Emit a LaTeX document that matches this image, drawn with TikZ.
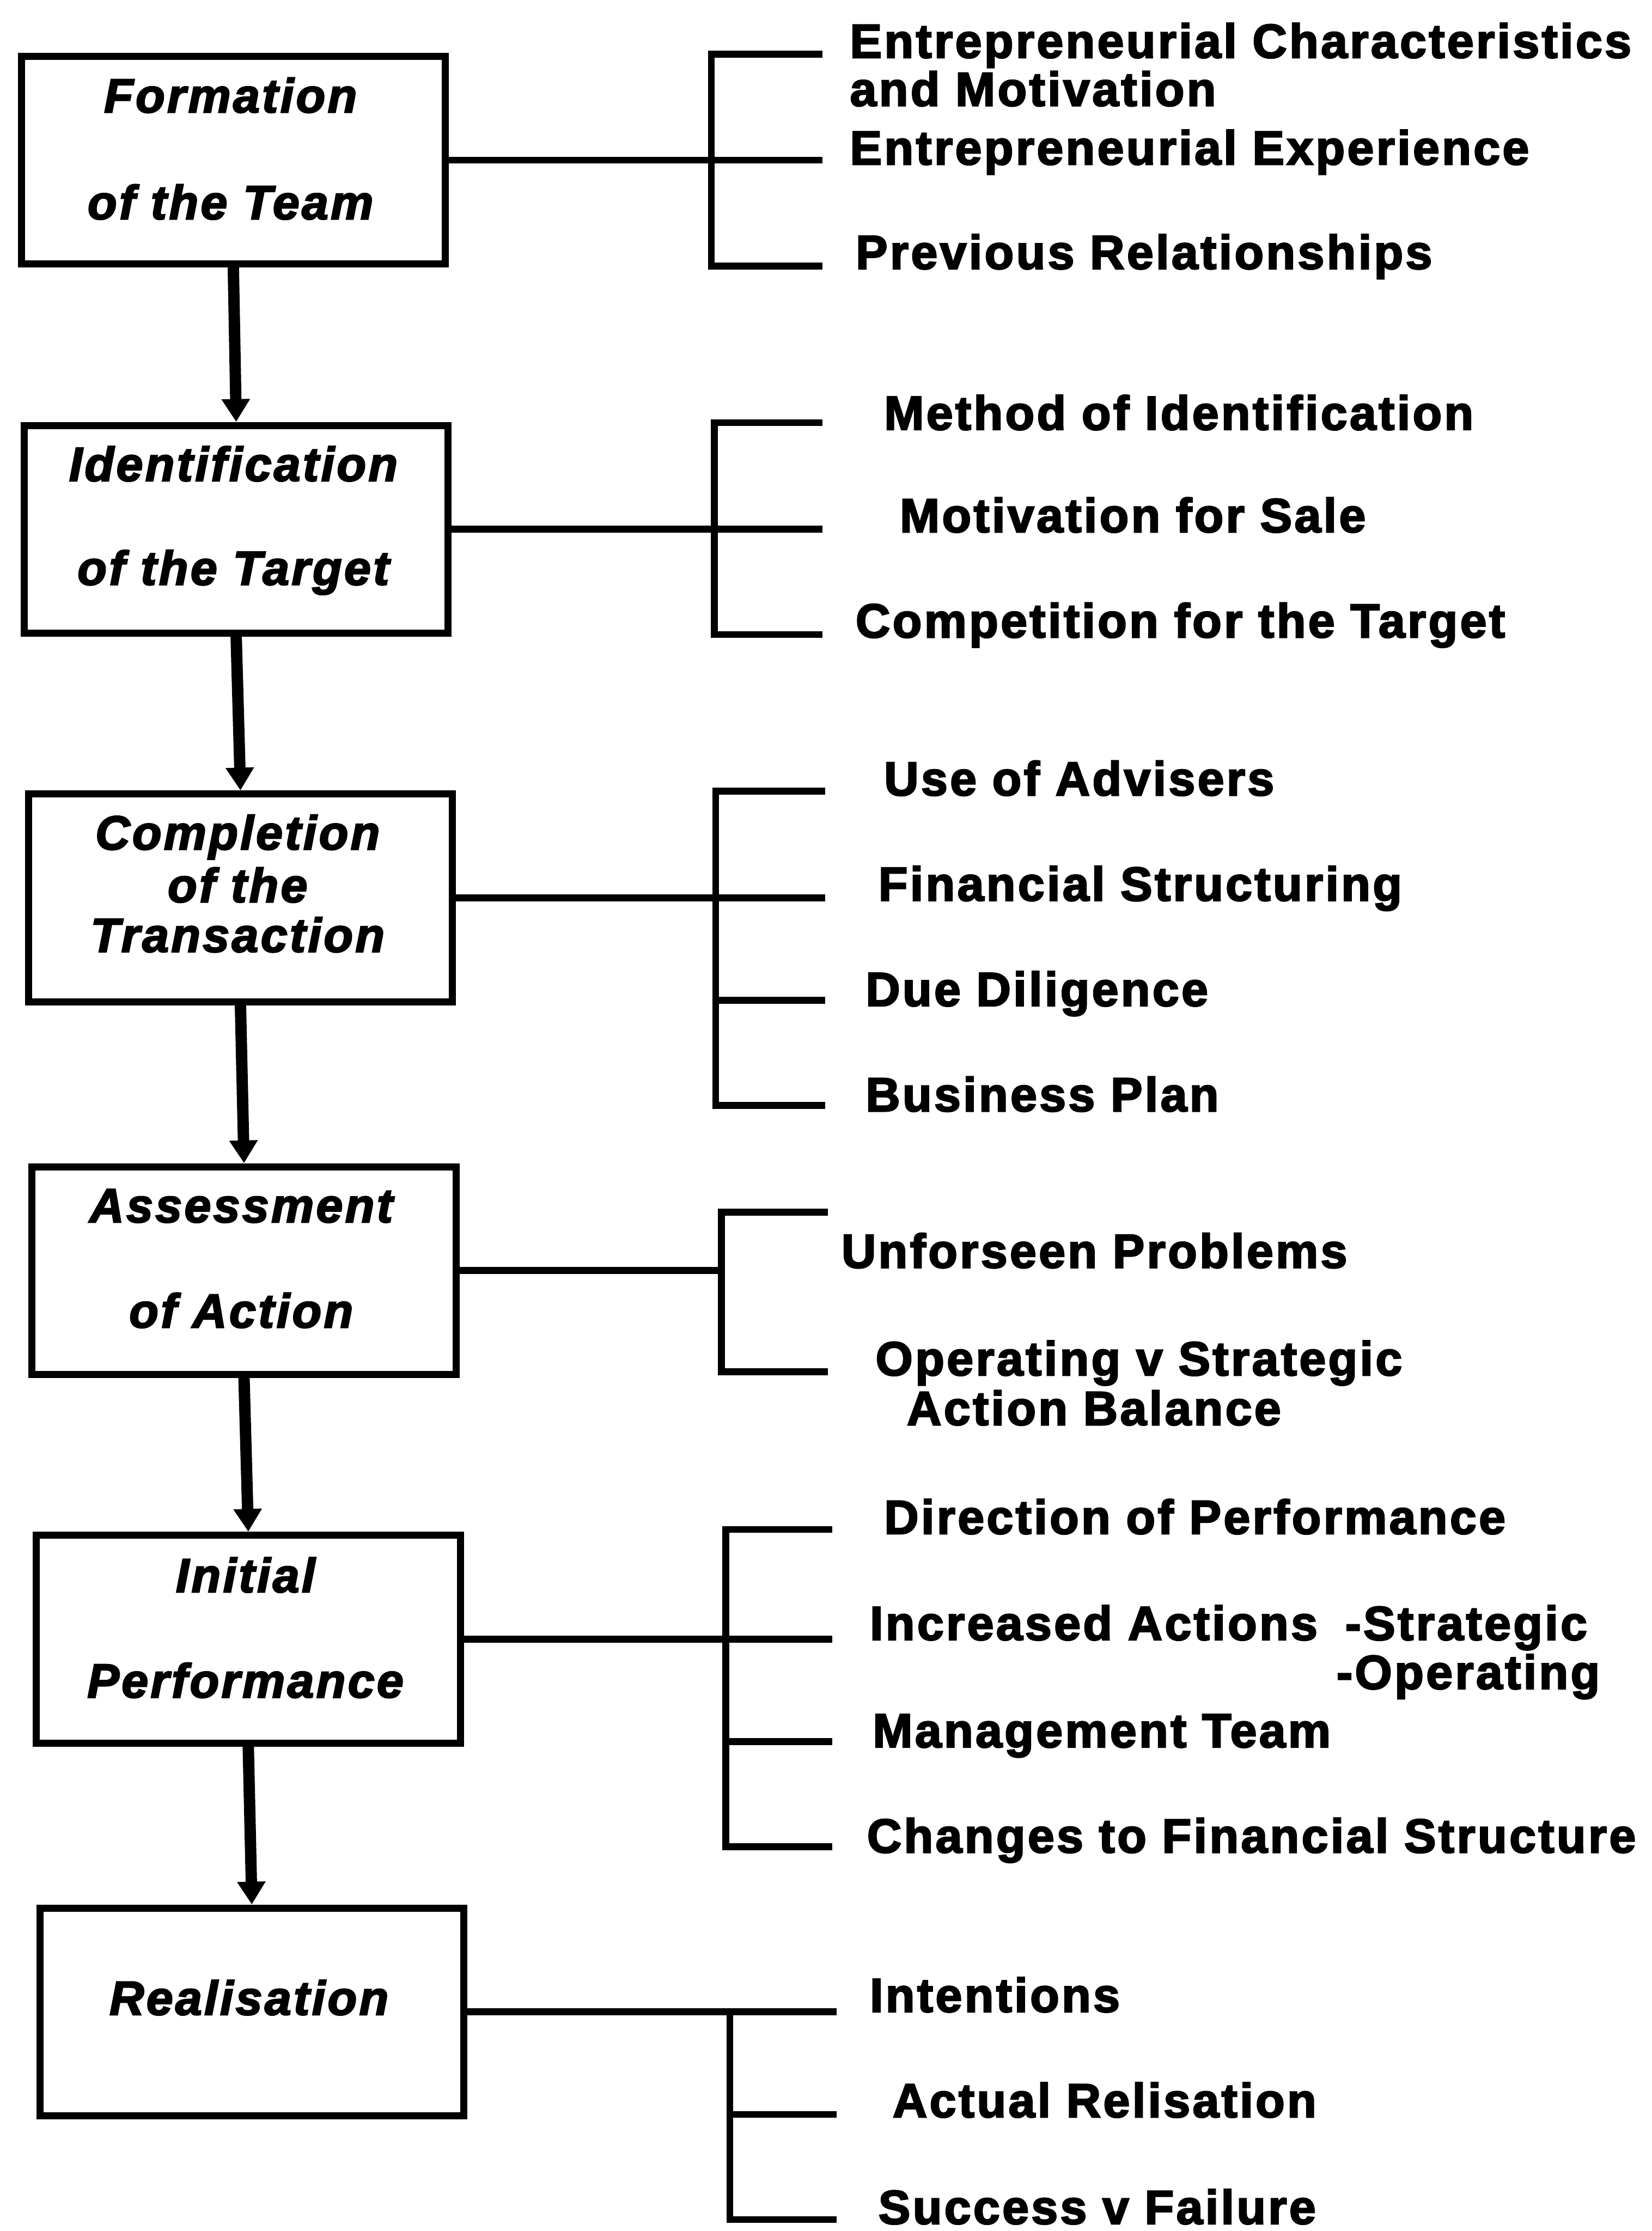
\documentclass[tikz,border=0pt]{standalone}
\usepackage{fontspec}
\setmainfont{Liberation Sans}[LetterSpace=5.0, FakeBold=3]
\usetikzlibrary{arrows.meta}
\begin{document}
\begin{tikzpicture}[x=0.5pt,y=-0.5pt,
  stage/.style={draw, line width=2.5pt, minimum width=149pt, minimum height=73pt, inner sep=0pt},
  stagetext/.style={anchor=base, inner sep=0pt, font=\fontsize{16.8}{18}\selectfont\bfseries\itshape},
  item/.style={anchor=base west, inner sep=0pt, font=\fontsize{16.8}{18}\selectfont\bfseries},
  flow/.style={line width=4pt, -{Triangle[width=9.5pt,length=8pt]}},
  bracket/.style={line width=2.4pt}
]
\useasboundingbox (0,0) rectangle (1161,1568);

% stages of the process
\node[stage] (b1) at (164,112.5) {};
\node[stage] (b2) at (166,372) {};
\node[stage] (b3) at (169,631) {};
\node[stage] (b4) at (171.5,893) {};
\node[stage] (b5) at (174.5,1152) {};
\node[stage] (b6) at (177,1414) {};

\node[stagetext] (b1a) at (162,79) {Formation};
\node[stagetext] (b1b) at (162,154) {of the Team};
\node[stagetext] (b2a) at (164,338) {Identification};
\node[stagetext] (b2b) at (164,411) {of the Target};
\node[stagetext] (b3a) at (167,597) {Completion};
\node[stagetext] (b3b) at (167,634) {of the};
\node[stagetext] (b3c) at (167,669) {Transaction};
\node[stagetext] (b4a) at (169.5,859) {Assessment};
\node[stagetext] (b4b) at (169.5,933) {of Action};
\node[stagetext] (b5a) at (172.5,1119) {Initial};
\node[stagetext] (b5b) at (172.5,1193) {Performance};
\node[stagetext] (b6a) at (175,1416) {Realisation};

% flow between stages
\draw[flow] (b1.south) -- (b2.north);
\draw[flow] (b2.south) -- (b3.north);
\draw[flow] (b3.south) -- (b4.north);
\draw[flow] (b4.south) -- (b5.north);
\draw[flow] (b5.south) -- (b6.north);

% bracket 1
\coordinate (c11) at (500,38);  \coordinate (e11) at (578,38);
\coordinate (e12) at (578,113);
\coordinate (c13) at (500,187); \coordinate (e13) at (578,187);
\draw[bracket] (b1.east) -- (b1.east -| e12);
\draw[bracket] (e11) -- (c11) -- (c13) -- (e13);

% bracket 2
\coordinate (c21) at (502,297); \coordinate (e21) at (578,297);
\coordinate (e22) at (578,372);
\coordinate (c23) at (502,446); \coordinate (e23) at (578,446);
\draw[bracket] (b2.east) -- (b2.east -| e22);
\draw[bracket] (e21) -- (c21) -- (c23) -- (e23);

% bracket 3
\coordinate (c31) at (503,556); \coordinate (e31) at (580,556);
\coordinate (e32) at (580,631);
\coordinate (c33) at (503,703); \coordinate (e33) at (580,703);
\coordinate (c34) at (503,777); \coordinate (e34) at (580,777);
\draw[bracket] (b3.east) -- (b3.east -| e32);
\draw[bracket] (e31) -- (c31) -- (c34) -- (e34);
\draw[bracket] (c33) -- (e33);

% bracket 4
\coordinate (c41) at (507,852); \coordinate (e41) at (582,852);
\coordinate (c42) at (507,964); \coordinate (e42) at (582,964);
\draw[bracket] (b4.east) -- (b4.east -| c41);
\draw[bracket] (e41) -- (c41) -- (c42) -- (e42);

% bracket 5
\coordinate (c51) at (510,1075); \coordinate (e51) at (585,1075);
\coordinate (e52) at (585,1152);
\coordinate (c53) at (510,1224); \coordinate (e53) at (585,1224);
\coordinate (c54) at (510,1298); \coordinate (e54) at (585,1298);
\draw[bracket] (b5.east) -- (b5.east -| e52);
\draw[bracket] (e51) -- (c51) -- (c54) -- (e54);
\draw[bracket] (c53) -- (e53);

% bracket 6
\coordinate (e61) at (588,1414);
\coordinate (c62) at (513,1486); \coordinate (e62) at (588,1486);
\coordinate (c63) at (513,1560); \coordinate (e63) at (588,1560);
\draw[bracket] (b6.east) -- (b6.east -| e61);
\draw[bracket] (b6.east -| c63) -- (c63) -- (e63);
\draw[bracket] (c62) -- (e62);

% factors
\node[item] (l11) at (597,40.6) {Entrepreneurial Characteristics};
\node[item] (l11b) at (597,74.4) {and Motivation};
\node[item] (l12) at (597,115.6) {Entrepreneurial Experience};
\node[item] (l13) at (601,189) {Previous Relationships};

\node[item] (l21) at (621,302) {Method of Identification};
\node[item] (l22) at (632,374) {Motivation for Sale};
\node[item] (l23) at (601,448) {Competition for the Target};

\node[item] (l31) at (621,559) {Use of Advisers};
\node[item] (l32) at (617,633) {Financial Structuring};
\node[item] (l33) at (608,707) {Due Diligence};
\node[item] (l34) at (608,781) {Business Plan};

\node[item] (l41) at (591,891) {Unforseen Problems};
\node[item] (l42) at (615,966.6) {Operating v Strategic};
\node[item] (l42b) at (637,1001.5) {Action Balance};

\node[item] (l51) at (621,1078) {Direction of Performance};
\node[item] (l52) at (611,1152.6) {Increased Actions};
\node[item] (l52s) at (945,1152.6) {-Strategic};
\node[item] (l52o) at (939,1187) {-Operating};
\node[item] (l53) at (613,1228) {Management Team};
\node[item] (l54) at (609,1302) {Changes to Financial Structure};

\node[item] (l61) at (611,1414) {Intentions};
\node[item] (l62) at (627,1488) {Actual Relisation};
\node[item] (l63) at (617,1563) {Success v Failure};
\end{tikzpicture}
\end{document}
